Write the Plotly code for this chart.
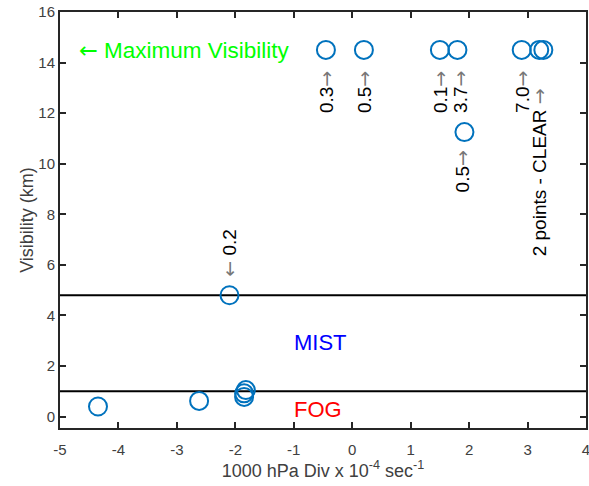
import plotly.graph_objects as go

# 1000 hPa divergence (x 10^-4 s^-1) and observed visibility (km)
divergence = [-4.35, -2.62, -1.82, -1.85, -1.85, -2.10, -0.45, 0.20, 1.50, 1.80, 1.92, 2.90, 3.20, 3.27]
visibility = [0.40, 0.62, 1.05, 0.92, 0.78, 4.80, 14.5, 14.5, 14.5, 14.5, 11.25, 14.5, 14.5, 14.5]

# visibility thresholds: fog below 1 km, mist below 4.8 km
thresholds = [1.0, 4.8]

# rotated value notes beside the points
RIGHT = "\u2192"
LEFT = "\u2190"
note_text = ["0.3" + RIGHT, "0.5" + RIGHT, "0.1" + RIGHT, "3.7" + RIGHT, "0.5" + RIGHT,
             "7.0" + RIGHT, "2 points - CLEAR " + RIGHT, LEFT + " 0.2"]
note_x = [-0.45, 0.20, 1.50, 1.84, 1.88, 2.90, 3.20, -2.10]
note_y = [12.83, 12.83, 12.83, 12.83, 9.7, 12.83, 9.67, 6.5]

x_ticks = [-5, -4, -3, -2, -1, 0, 1, 2, 3, 4]
y_ticks = [0, 2, 4, 6, 8, 10, 12, 14, 16]

FONT = "Liberation Sans, Arial, sans-serif"
ARROW_FONT = "DejaVu Sans"


def styled_arrows(text, color="#777777"):
    # draw arrow glyphs with a font that carries long, thin arrows
    out = ""
    for ch in text:
        if ch in (RIGHT, LEFT):
            out += f'<span style="font-family:{ARROW_FONT};color:{color}">{ch}</span>'
        else:
            out += ch
    return out


fig = go.Figure()
fig.add_trace(go.Scatter(
    x=divergence, y=visibility, mode="markers",
    marker=dict(symbol="circle-open", size=18, color="#0072BD",
                line=dict(width=2, color="#0072BD")),
    showlegend=False, hoverinfo="x+y",
))

shapes = [dict(type="line", xref="paper", x0=0, x1=1, yref="y", y0=t, y1=t,
               line=dict(color="black", width=2), layer="below")
          for t in thresholds]

annotations = [dict(x=x, y=y, text=styled_arrows(t), showarrow=False, textangle=-90,
                    xanchor="center", yanchor="middle",
                    font=dict(family=FONT, size=19, color="black"))
               for t, x, y in zip(note_text, note_x, note_y)]

annotations += [
    dict(x=-2.87, y=14.5, text=styled_arrows(LEFT + " Maximum Visibility", "#00FF00"),
         showarrow=False, xanchor="center", yanchor="middle",
         font=dict(family=FONT, size=22.5, color="#00FF00")),
    dict(x=-1.03, y=2.95, text="MIST", showarrow=False, xanchor="left", yanchor="middle",
         font=dict(family=FONT, size=22, color="blue")),
    dict(x=-1.03, y=0.28, text="FOG", showarrow=False, xanchor="left", yanchor="middle",
         font=dict(family=FONT, size=22, color="red")),
]

axis_common = dict(showgrid=False, zeroline=False, showline=True, linecolor="#262626",
                   linewidth=2, mirror="allticks", ticks="inside", ticklen=6,
                   tickwidth=2, tickcolor="#262626", automargin=False,
                   ticklabeloverflow="allow",
                   tickfont=dict(family=FONT, size=15, color="#404040"))

fig.update_layout(
    width=589, height=486,
    margin=dict(l=60, r=3, t=12, b=58),
    plot_bgcolor="white", paper_bgcolor="white",
    xaxis=dict(range=[-5, 4], tickvals=x_ticks, ticktext=[str(v) for v in x_ticks],
               ticklabelstandoff=7,
               title=dict(text="1000 hPa Div x 10<sup>-4</sup> sec<sup>-1</sup>",
                          font=dict(family=FONT, size=18, color="#404040"), standoff=4),
               **axis_common),
    yaxis=dict(range=[-0.45, 16], tickvals=y_ticks, ticktext=[str(v) for v in y_ticks],
               title=dict(text="Visibility (km)",
                          font=dict(family=FONT, size=18, color="#404040"), standoff=0),
               **axis_common),
    shapes=shapes,
    annotations=annotations,
)

fig.write_html("out.html")
